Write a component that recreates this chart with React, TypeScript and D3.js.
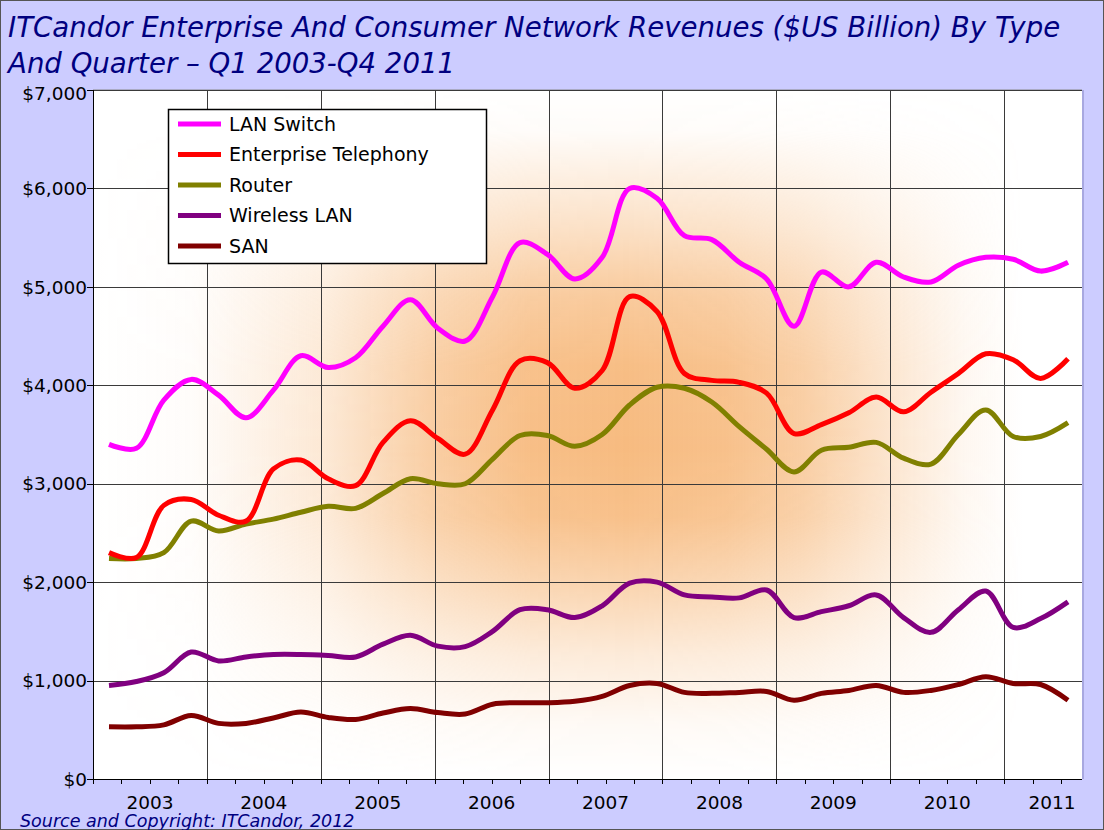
import React from "react";
import * as d3 from "d3";

const years = [2003, 2004, 2005, 2006, 2007, 2008, 2009, 2010, 2011];
const yTicks = [0, 1000, 2000, 3000, 4000, 5000, 6000, 7000];

const seriesNames = ["LAN Switch", "Enterprise Telephony", "Router", "Wireless LAN", "SAN"];
const seriesColors = ["#FF00FF", "#FF0000", "#808000", "#800080", "#800000"];

// Quarterly values Q1 2003 .. Q4 2011 (as drawn against the $ axis)
const lanSwitch = [3400, 3360, 3850, 4060, 3900, 3670, 3950, 4300, 4180, 4280, 4600, 4870,
  4580, 4450, 4900, 5450, 5330, 5080, 5300, 6000, 5900, 5520, 5480, 5250,
  5080, 4600, 5150, 5000, 5250, 5100, 5050, 5220, 5300, 5280, 5160, 5250];
const enterpriseTelephony = [2300, 2250, 2780, 2840, 2680, 2620, 3150, 3240, 3050, 2980, 3420, 3640,
  3460, 3300, 3750, 4250, 4230, 3970, 4150, 4900, 4750, 4120, 4050, 4030,
  3920, 3510, 3600, 3720, 3880, 3730, 3930, 4120, 4320, 4260, 4070, 4270];
const router = [2240, 2240, 2300, 2620, 2520, 2590, 2640, 2710, 2770, 2750, 2900, 3050,
  3000, 3000, 3250, 3490, 3490, 3380, 3500, 3800, 3980, 3970, 3830, 3580,
  3350, 3120, 3340, 3370, 3420, 3260, 3200, 3500, 3750, 3480, 3480, 3620];
const wirelessLan = [950, 990, 1080, 1290, 1200, 1240, 1265, 1265, 1255, 1240, 1370, 1460,
  1350, 1345, 1500, 1720, 1720, 1640, 1760, 1990, 2000, 1870, 1850, 1840,
  1920, 1640, 1700, 1760, 1870, 1640, 1490, 1720, 1910, 1540, 1630, 1800];
const san = [530, 530, 550, 645, 565, 565, 620, 680, 625, 605, 670, 715,
  675, 660, 760, 775, 775, 790, 840, 950, 970, 880, 870, 880,
  890, 800, 870, 900, 950, 880, 900, 960, 1040, 970, 960, 800];

const allSeries = [lanSwitch, enterpriseTelephony, router, wirelessLan, san];

const W = 1104;
const H = 830;
const left = 93;
const right = 1082;
const top = 90;
const bottom = 779;
const yearWidth = 113.9;

const titleLines = [
  "ITCandor Enterprise And Consumer Network Revenues ($US Billion) By Type",
  "And Quarter \u2013 Q1 2003-Q4 2011",
];
const footer = "Source and Copyright: ITCandor, 2012";

const font = "'DejaVu Sans', Verdana, sans-serif";

const hStops: [number, number][] = [
  [0, 0], [0.1, 0.04], [0.24, 0.35], [0.34, 0.72], [0.44, 0.95], [0.54, 1],
  [0.64, 0.92], [0.72, 0.72], [0.8, 0.4], [0.88, 0.12], [0.94, 0], [1, 0],
];
const vStops: [number, number][] = [
  [0, 0], [0.06, 0.05], [0.2, 0.45], [0.3, 0.78], [0.4, 0.96], [0.52, 1],
  [0.62, 0.92], [0.72, 0.62], [0.82, 0.3], [0.92, 0.08], [1, 0],
];

export default function App() {
  const yearEnd = years[0] + (right - left) / yearWidth;
  const xYear = d3.scaleLinear().domain([years[0], yearEnd]).range([left, right]);
  const y = d3.scaleLinear().domain([0, 7000]).range([bottom, top]);
  const n = lanSwitch.length;
  const xData = d3.scaleLinear().domain([0, n - 1]).range([left + 16, right - 14]);

  const line = d3
    .line<number>()
    .x((_, i) => xData(i))
    .y((d) => y(d))
    .curve(d3.curveCatmullRom.alpha(0.5));

  const quarterTicks = d3.range(0, Math.floor((yearEnd - years[0]) * 4) + 1).map((q) => years[0] + q / 4);
  const yearBounds = years.slice(1);

  const navy = "#000080";
  const orange = "#F7BB80";

  return (
    <svg
      width={W}
      height={H}
      style={{ position: "absolute", left: 0, top: 0, display: "block" }}
      fontFamily={font}
    >
      <defs>
        <linearGradient id="hgrad" x1="0" x2="1" y1="0" y2="0">
          {hStops.map(([o, a]) => (
            <stop key={"h" + o} offset={o} stopColor={orange} stopOpacity={a} />
          ))}
        </linearGradient>
        <linearGradient id="vgrad" x1="0" x2="0" y1="0" y2="1">
          {vStops.map(([o, a]) => (
            <stop key={"v" + o} offset={o} stopColor="#fff" stopOpacity={a} />
          ))}
        </linearGradient>
        <mask id="vmask" maskUnits="userSpaceOnUse" x={left} y={top} width={right - left} height={bottom - top}>
          <rect x={left} y={top} width={right - left} height={bottom - top} fill="url(#vgrad)" />
        </mask>
        <clipPath id="plotclip">
          <rect x={left} y={top} width={right - left} height={bottom - top} />
        </clipPath>
      </defs>

      {/* background */}
      <rect x={0} y={0} width={W} height={H} fill="#CCCCFF" />
      <rect x={0.5} y={0.5} width={W - 1} height={H - 1} fill="none" stroke="#555" strokeWidth={1} />

      {/* plot area */}
      <rect x={left} y={top} width={right - left} height={bottom - top} fill="#FFFFFF" />
      <rect
        x={left}
        y={top}
        width={right - left}
        height={bottom - top}
        fill="url(#hgrad)"
        mask="url(#vmask)"
      />
      <line x1={right + 1} x2={right + 1} y1={top} y2={bottom} stroke="#A8A8E0" strokeWidth={2} />
      <line x1={left} x2={right} y1={top} y2={top} stroke="#888" strokeWidth={1} />

      {/* grid */}
      <g stroke="#3a3a3a" strokeWidth={1}>
        {yTicks.slice(1).map((t) => (
          <line key={"h" + t} x1={left} x2={right} y1={Math.round(y(t)) + 0.5} y2={Math.round(y(t)) + 0.5} />
        ))}
        {yearBounds.map((yy) => (
          <line key={"v" + yy} x1={Math.round(xYear(yy)) + 0.5} x2={Math.round(xYear(yy)) + 0.5} y1={top} y2={bottom} />
        ))}
      </g>

      {/* series */}
      <g clipPath="url(#plotclip)" fill="none" strokeWidth={5} strokeLinejoin="round" strokeLinecap="butt">
        {allSeries
          .map((s, i) => ({ s, i }))
          .reverse()
          .map(({ s, i }) => (
            <path key={seriesNames[i]} d={line(s) || ""} stroke={seriesColors[i]} />
          ))}
      </g>

      {/* axes */}
      <g stroke="#000" strokeWidth={1}>
        <line x1={left + 0.5} x2={left + 0.5} y1={top} y2={bottom} />
        <line x1={left} x2={right} y1={bottom + 0.5} y2={bottom + 0.5} />
        {yTicks.map((t) => (
          <line key={"yt" + t} x1={left - 6} x2={left} y1={Math.round(y(t)) + 0.5} y2={Math.round(y(t)) + 0.5} />
        ))}
        {quarterTicks.map((q) => (
          <line key={"xt" + q} x1={Math.round(xYear(q)) + 0.5} x2={Math.round(xYear(q)) + 0.5} y1={bottom} y2={bottom + 5} />
        ))}
      </g>

      {/* y labels */}
      <g fontSize={18.5} fill="#000" textAnchor="end">
        {yTicks.map((t) => (
          <text key={"yl" + t} x={left - 6} y={y(t) + (t === 7000 ? 3 : 0)} dy="0.36em">
            {d3.format("$,")(t)}
          </text>
        ))}
      </g>

      {/* x labels */}
      <g fontSize={18.5} fill="#000" textAnchor="middle">
        {years.map((yy) => (
          <text key={"xl" + yy} x={Math.min(xYear(yy + 0.5), right - 30)} y={bottom + 30}>
            {yy}
          </text>
        ))}
      </g>

      {/* title */}
      <g fill={navy} fontStyle="italic" fontSize={27.6}>
        <text x={8} y={37}>{titleLines[0]}</text>
        <text x={8} y={73}>{titleLines[1]}</text>
      </g>
      <text x={20} y={827} fill={navy} fontStyle="italic" fontSize={17.5}>
        {footer}
      </text>

      {/* legend */}
      <g>
        <rect x={168.5} y={109.5} width={318} height={154} fill="#FFFFFF" stroke="#000" strokeWidth={1.5} />
        {seriesNames.map((name, i) => {
          const cy = 124 + i * 30.5;
          return (
            <g key={"lg" + name}>
              <line x1={178} x2={221} y1={cy} y2={cy} stroke={seriesColors[i]} strokeWidth={5} />
              <text x={229} y={cy} dy="0.36em" fontSize={19} fill="#000">
                {name}
              </text>
            </g>
          );
        })}
      </g>
    </svg>
  );
}
